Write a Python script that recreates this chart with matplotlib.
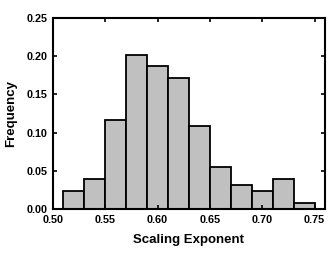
import matplotlib
matplotlib.use('Agg')
import matplotlib.pyplot as plt

# histogram bins (left edges) and relative frequencies
bin_left = [0.51, 0.53, 0.55, 0.57, 0.59, 0.61, 0.63, 0.65, 0.67, 0.69, 0.71, 0.73]
bin_width = 0.02
freq = [0.024, 0.039, 0.116, 0.202, 0.187, 0.171, 0.109, 0.055, 0.032, 0.024, 0.039, 0.008]
xticks = [0.50, 0.55, 0.60, 0.65, 0.70, 0.75]
yticks = [0.00, 0.05, 0.10, 0.15, 0.20, 0.25]

plt.rcParams['font.family'] = ['Liberation Sans', 'DejaVu Sans']

fig = plt.figure(figsize=(3.35, 2.59), dpi=100)
ax = fig.add_axes([53 / 335, 1 - 209 / 259, 272 / 335, 191 / 259])

ax.bar(bin_left, freq, width=bin_width, align='edge',
       color='#c0c0c0', edgecolor='black', linewidth=1.3)

ax.set_xlim(0.50, 0.76)
ax.set_ylim(0, 0.25)
ax.set_xticks(xticks)
ax.set_yticks(yticks)
ax.set_xticklabels([f'{v:.2f}' for v in xticks], fontweight='bold', fontsize=7.8)
ax.set_yticklabels([f'{v:.2f}' for v in yticks], fontweight='bold', fontsize=7.8)
ax.tick_params(direction='in', top=True, right=True, length=3, width=1.2, pad=4)
for s in ax.spines.values():
    s.set_linewidth(1.5)

ax.set_xlabel('Scaling Exponent', fontweight='bold', fontsize=9.5, labelpad=7)
ax.set_ylabel('Frequency', fontweight='bold', fontsize=9.5, labelpad=7)

fig.savefig('out.png', dpi=100)
